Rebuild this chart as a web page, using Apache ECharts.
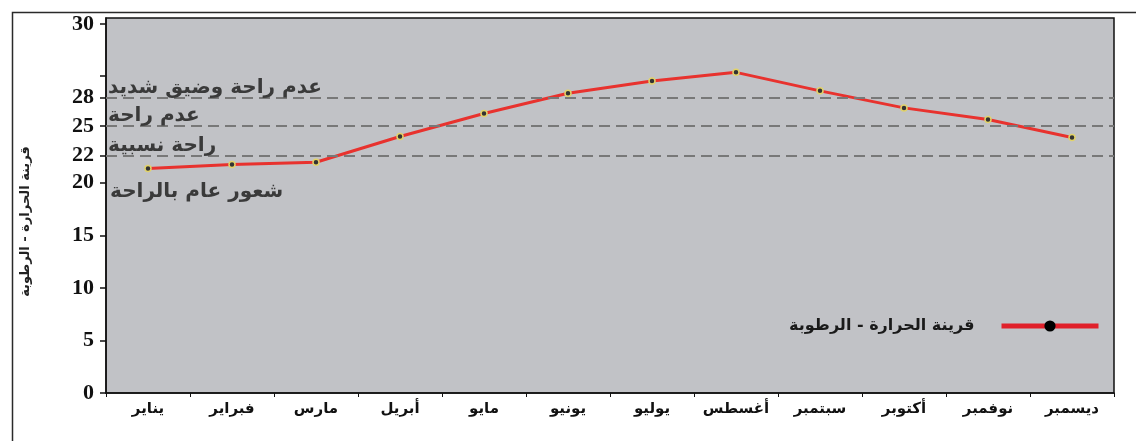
<!DOCTYPE html>
<html>
<head>
<meta charset="utf-8">
<script src="https://cdn.jsdelivr.net/npm/echarts@6/dist/echarts.min.js"></script>
<style>html,body{margin:0;padding:0;background:#fff;}#c{width:1136px;height:441px;}</style>
</head>
<body>
<div id="c"></div>
<script>
// ---- data ----
const months = ['يناير','فبراير','مارس','أبريل','مايو','يونيو','يوليو','أغسطس','سبتمبر','أكتوبر','نوفمبر','ديسمبر'];
const thi = [21.35, 21.73, 21.95, 24.40, 26.59, 28.52, 29.67, 30.50, 28.74, 27.12, 26.02, 24.30];
const seriesName = 'قرينة الحرارة - الرطوبة';
const yTickValues = [0, 5, 10, 15, 20, 22.6, 25.4, 28.1, 30.2, 35.1];
const yTickLabels = ['0', '5', '10', '15', '20', '22', '25', '28', '', '30'];
const zoneValues = [20, 22.6, 25.4, 28.1];
const zoneNames = ['شعور عام بالراحة', 'راحة نسبية', 'عدم راحة', 'عدم راحة وضيق شديد'];
const zoneLineShown = [false, true, true, true];

const arFont = '"DejaVu Sans", "Noto Sans", sans-serif';
const chart = echarts.init(document.getElementById('c'), null, {renderer: 'canvas'});

const markData = zoneValues.map((v, i) => ({
  yAxis: v,
  name: zoneNames[i],
  lineStyle: zoneLineShown[i]
    ? {color: '#787878', type: [11, 6], width: 2}
    : {color: 'rgba(0,0,0,0)', width: 1},
  label: {
    show: true,
    formatter: '{b}',
    position: zoneLineShown[i] ? 'insideStartTop' : 'insideStartBottom',
    distance: zoneLineShown[i] ? [2, 0] : [4, -1],
    fontFamily: arFont,
    fontWeight: 'bold',
    fontSize: 20,
    color: '#3a3a3a'
  }
}));

chart.setOption({
  animation: false,
  backgroundColor: '#ffffff',
  graphic: [{
    type: 'rect', left: 10, top: 10, z: -1,
    shape: {width: 1200, height: 500},
    style: {fill: 'none', stroke: '#2a2a2a', lineWidth: 1.5}
  }],
  grid: {
    left: 106, right: 22, top: 18, bottom: 48,
    show: true, backgroundColor: '#c1c2c6', borderColor: '#111', borderWidth: 1.5
  },
  legend: {
    right: 30, top: 313,
    align: 'right',
    itemWidth: 97, itemHeight: 14,
    textStyle: {fontFamily: arFont, fontWeight: 'bold', fontSize: 16, color: '#1a1a1a', padding: [0, 22, 0, 0]},
    data: [{
      name: seriesName,
      itemStyle: {color: '#000', borderWidth: 0},
      lineStyle: {color: '#e0202a', width: 5}
    }]
  },
  xAxis: {
    type: 'category',
    data: months,
    boundaryGap: true,
    axisLine: {lineStyle: {color: '#111', width: 1.5}},
    axisTick: {show: true, length: 4, interval: 0, lineStyle: {color: '#111'}},
    axisLabel: {interval: 0, hideOverlap: false, fontFamily: arFont, fontWeight: 'bold', fontSize: 15, color: '#111', margin: 9}
  },
  yAxis: {
    type: 'value',
    min: 0, max: 35.67,
    name: seriesName,
    nameLocation: 'middle',
    nameGap: 74,
    nameRotate: 90,
    nameTextStyle: {fontFamily: arFont, fontWeight: 'bold', fontSize: 13, color: '#222', padding: [0, 32, 0, 0]},
    splitLine: {show: false},
    axisLine: {show: true, lineStyle: {color: '#111', width: 1.5}},
    axisTick: {show: true, inside: false, length: 6, customValues: yTickValues, lineStyle: {color: '#111', width: 1.5}},
    axisLabel: {
      customValues: yTickValues,
      formatter: v => { const i = yTickValues.indexOf(v); return i >= 0 ? yTickLabels[i] : ''; },
      fontFamily: '"Liberation Serif", serif', fontWeight: 'bold', fontSize: 22, color: '#111', margin: 12
    }
  },
  series: [{
    name: seriesName,
    type: 'line',
    data: thi,
    symbol: 'circle',
    symbolSize: 6,
    lineStyle: {color: '#e8322e', width: 3},
    itemStyle: {color: '#333', borderColor: '#e2d36a', borderWidth: 1.5},
    z: 3,
    markLine: {
      silent: true,
      symbol: 'none',
      z: 4,
      data: markData
    }
  }]
});
</script>
</body>
</html>
